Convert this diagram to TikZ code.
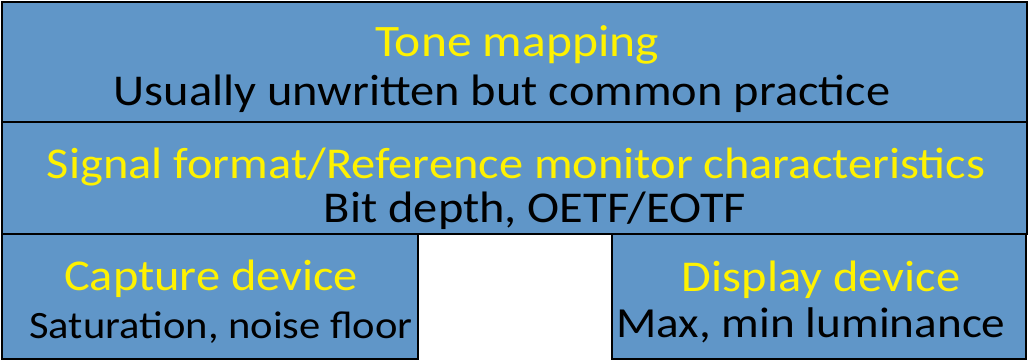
\documentclass[tikz,border=0pt]{standalone}
\usepackage{fontspec}
\setmainfont{Carlito}[FakeStretch=1.10]
\usetikzlibrary{positioning}
\definecolor{layerblue}{HTML}{6096C8}

\begin{document}
\begin{tikzpicture}[x=1pt, y=-1pt]
    \tikzset{
        layer/.style={draw=black, line width=1.8pt, fill=layerblue, inner sep=0pt, outer sep=0pt, anchor=north west},
        heading/.style={text=yellow, anchor=base, inner sep=0pt, font=\fontsize{44}{52}\selectfont},
        remark/.style={text=black, anchor=base, inner sep=0pt, font=\fontsize{44}{52}\selectfont},
    }
    \useasboundingbox (0,0) rectangle (1029,361);

    % the three layers
    \node [layer, minimum width=1025pt, minimum height=120pt] (tone) at (2,2) {};
    \node [layer, minimum width=1025pt, minimum height=112pt] (signal) at (2,122) {};
    \node [layer, minimum width=416pt, minimum height=125pt] (capture) at (2,234) {};
    \node [layer, minimum width=414pt, minimum height=125pt] (display) at (612,234) {};

    % texts
    \node [heading, font=\fontsize{45}{52}\selectfont] (toneT) at (517,57) {Tone mapping};
    \node [remark] (toneR) at (502,106) {Usually unwritten but common practice};
    \node [heading] (signalT) at (516,178) {Signal format/Reference monitor characteristics};
    \node [remark] (signalR) at (535,222) {Bit depth, OETF/EOTF};
    \node [heading] (captureT) at (211,290) {Capture device};
    \node [remark, font=\fontsize{38.7}{46}\selectfont] (captureR) at (221,338) {Saturation, noise floor};
    \node [heading] (displayT) at (821,291) {Display device};
    \node [remark, font=\fontsize{42.9}{50}\selectfont] (displayR) at (811,337) {Max, min luminance};
\end{tikzpicture}
\end{document}
